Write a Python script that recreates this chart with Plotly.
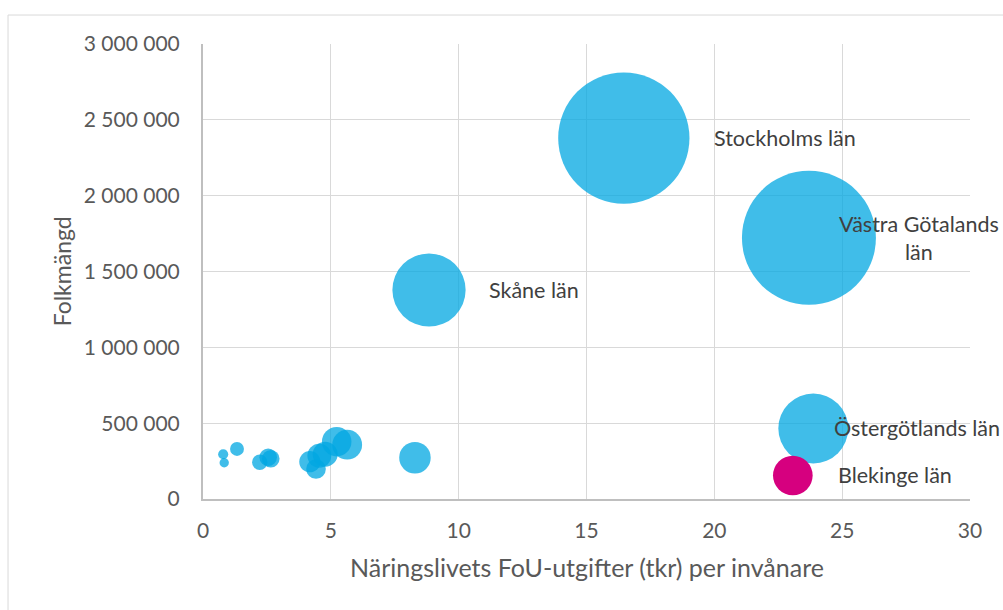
import plotly.graph_objects as go

# Län, näringslivets FoU-utgifter per invånare (tkr), folkmängd och total FoU (mkr)
lan = [
    "Stockholms län", "Västra Götalands län", "Skåne län", "Östergötlands län",
    "Blekinge län", "Län 6", "Län 7", "Län 8", "Län 9", "Län 10", "Län 11",
    "Län 12", "Län 13", "Län 14", "Län 15", "Län 16", "Län 17", "Län 18",
]
fou_per_inv = [16.46, 23.70, 8.84, 23.87, 23.07, 0.79, 0.83, 1.33, 2.22, 2.55,
               2.65, 4.18, 4.42, 4.55, 4.78, 5.23, 5.64, 8.29]
folkmangd = [2380000, 1722000, 1378000, 465000, 155000, 295000, 239000, 330000,
             242000, 275000, 265000, 246000, 198000, 285000, 295000, 378000,
             358000, 272000]
fou_total = [39175, 40811, 12182, 11100, 3576, 233, 198, 439, 537, 701, 702,
             1028, 875, 1297, 1410, 1977, 2019, 2255]

# Etiketter som visas bredvid bubblorna: (index, text, förskjutning i px, justering)
etiketter = [
    (0, "Stockholms län", 88, "left"),
    (1, "Västra Götalands<br>län", 110, "center"),
    (2, "Skåne län", 58, "left"),
    (3, "Östergötlands län", 19, "left"),
    (4, "Blekinge län", 43, "left"),
]

x_ticks = [0, 5, 10, 15, 20, 25, 30]
y_ticks = [0, 500000, 1000000, 1500000, 2000000, 2500000, 3000000]

BLA = "rgb(0,167,225)"
MAGENTA = "rgb(214,0,127)"
farger = [MAGENTA if n == "Blekinge län" else BLA for n in lan]
opac = [1.0 if n == "Blekinge län" else 0.75 for n in lan]

# största bubblan får diametern max_diam px
max_diam = 134
sizeref = 2 * max(fou_total) / (max_diam ** 2)

fig = go.Figure()
fig.add_trace(go.Scatter(
    x=fou_per_inv, y=folkmangd, mode="markers", text=lan,
    marker=dict(size=fou_total, sizemode="area", sizeref=sizeref,
                color=farger, opacity=opac, line=dict(width=0)),
    hovertemplate="%{text}<br>%{x} tkr<br>%{y}<extra></extra>",
))

font = "Lato, 'Open Sans', sans-serif"
annotations = []
for i, txt, dx, anchor in etiketter:
    annotations.append(dict(
        x=fou_per_inv[i], y=folkmangd[i], xref="x", yref="y", text=txt,
        showarrow=False, xanchor=anchor, yanchor="middle", align="center",
        xshift=dx, font=dict(family=font, size=21.5, color="#404040"),
    ))

annotations.append(dict(
    x=0.5, y=-0.15, xref="paper", yref="paper",
    text="Näringslivets FoU-utgifter (tkr) per invånare",
    showarrow=False, xanchor="center", yanchor="middle",
    font=dict(family=font, size=25, color="#595959"),
))
annotations.append(dict(
    x=-0.184, y=0.5, xref="paper", yref="paper", text="Folkmängd",
    showarrow=False, textangle=-90, xanchor="center", yanchor="middle",
    font=dict(family=font, size=23, color="#595959"),
))

fig.update_layout(
    width=1003, height=610,
    margin=dict(l=203, r=33, t=44, b=111),
    paper_bgcolor="white", plot_bgcolor="white",
    separators=", ",
    showlegend=False,
    annotations=annotations,
    shapes=[dict(type="rect", xref="paper", yref="paper",
                 x0=-0.2542, y0=-0.6, x1=1.3, y1=1.0637,
                 line=dict(color="#D9D9D9", width=1), layer="below")],
    xaxis=dict(range=[0, 30], tickvals=x_ticks, showgrid=True,
               gridcolor="#D9D9D9", gridwidth=1, zeroline=False,
               showline=True, linecolor="#BFBFBF", linewidth=2,
               ticks="", ticklabelstandoff=12,
               tickfont=dict(family=font, size=21, color="#595959")),
    yaxis=dict(range=[0, 3000000], tickvals=y_ticks, tickformat=",d",
               showgrid=True, gridcolor="#D9D9D9", gridwidth=1,
               zeroline=False, showline=True, linecolor="#BFBFBF",
               linewidth=2, ticks="", ticklabelstandoff=17,
               tickfont=dict(family=font, size=21, color="#595959")),
)

fig.write_html("out.html")
